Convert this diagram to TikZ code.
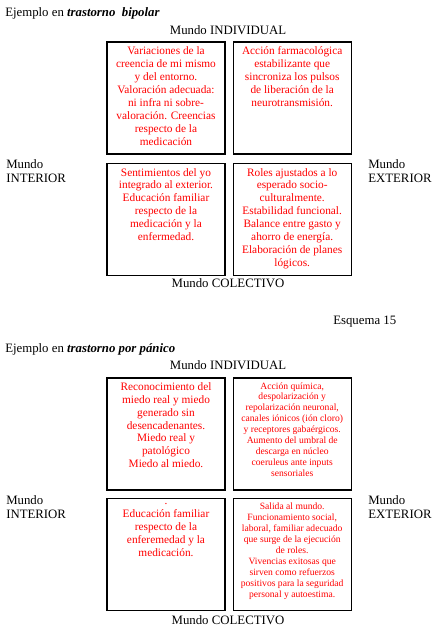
\documentclass[tikz,border=0pt]{standalone}
\usepackage{fontspec}
\setmainfont{Liberation Serif}
\usetikzlibrary{positioning}

\begin{document}
\begin{tikzpicture}[x=0.75pt, y=-0.75pt,
        cuadro/.style={rectangle, draw=black, line width=0.9pt, minimum width=88.5pt, minimum height=84pt, inner sep=0pt},
        texto/.style={text=red, align=center, anchor=north, inner sep=0pt, font=\fontsize{8.5}{9.7}\selectfont},
        textochico/.style={texto, font=\fontsize{7.2}{8.2}\selectfont},
        mundo/.style={font=\fontsize{9.6}{11}\selectfont, inner sep=0pt, align=left},
        titulo/.style={anchor=west, font=\fontsize{9.6}{11}\selectfont, inner sep=0pt}
    ]
        \useasboundingbox (0,0) rectangle (444,627);

        % Esquema trastorno bipolar
        \node[titulo] (tit1) at (5,13) {Ejemplo en \textbf{\textit{trastorno\ \ bipolar}}};
        \node[mundo] (ind1) at (228,30) {Mundo INDIVIDUAL};
        \node[mundo, anchor=west] (int1) at (6,171) {Mundo\\INTERIOR};
        \node[mundo, anchor=west] (ext1) at (368,171) {Mundo\\EXTERIOR};
        \node[mundo] (col1) at (228,283) {Mundo COLECTIVO};

        \node[cuadro] (c1a) at (166,98) {};
        \node[cuadro, right=5.25pt of c1a] (c1b) {};
        \node[cuadro, below=6pt of c1a] (c1c) {};
        \node[cuadro, below=6pt of c1b] (c1d) {};

        \node[texto] (t1a) at ([yshift=-4pt]c1a.north) {Variaciones de la\\creencia de mi mismo\\y del entorno.\\Valoración adecuada:\\ni infra ni sobre-\\valoración. Creencias\\respecto de la\\medicación};
        \node[texto] (t1b) at ([yshift=-4pt]c1b.north) {Acción farmacológica\\estabilizante que\\sincroniza los pulsos\\de liberación de la\\neurotransmisión.};
        \node[texto] (t1c) at ([yshift=-4pt]c1c.north) {Sentimientos del yo\\integrado al exterior.\\Educación familiar\\respecto de la\\medicación y la\\enfermedad.};
        \node[texto] (t1d) at ([yshift=-4pt]c1d.north) {Roles ajustados a lo\\esperado socio-\\culturalmente.\\Estabilidad funcional.\\Balance entre gasto y\\ahorro de energía.\\Elaboración de planes\\lógicos.};

        \node[titulo] (esq) at (333,322) {Esquema 15};

        % Esquema trastorno por panico
        \node[titulo] (tit2) at (5,349) {Ejemplo en \textbf{\textit{trastorno por pánico}}};
        \node[mundo] (ind2) at (228,365) {Mundo INDIVIDUAL};
        \node[mundo, anchor=west] (int2) at (6,507) {Mundo\\INTERIOR};
        \node[mundo, anchor=west] (ext2) at (368,507) {Mundo\\EXTERIOR};
        \node[mundo] (col2) at (228,620) {Mundo COLECTIVO};

        \node[cuadro] (c2a) at (166,434) {};
        \node[cuadro, right=5.25pt of c2a] (c2b) {};
        \node[cuadro, below=5.25pt of c2a] (c2c) {};
        \node[cuadro, below=5.25pt of c2b] (c2d) {};

        \node[texto] (t2a) at ([yshift=-3.5pt]c2a.north) {Reconocimiento del\\miedo real y miedo\\generado sin\\desencadenantes.\\Miedo real y\\patológico\\Miedo al miedo.};
        \node[textochico] (t2b) at ([yshift=-3.5pt]c2b.north) {Acción química,\\despolarización y\\repolarización neuronal,\\canales iónicos (ión cloro)\\y receptores gabaérgicos.\\Aumento del umbral de\\descarga en núcleo\\coeruleus ante inputs\\sensoriales};
        \node[texto] (t2c) at ([yshift=-4pt]c2c.north) {.\\Educación familiar\\respecto de la\\enferemedad y la\\medicación.};
        \node[textochico] (t2d) at ([yshift=-4pt]c2d.north) {Salida al mundo.\\Funcionamiento social,\\laboral, familiar adecuado\\que surge de la ejecución\\de roles.\\Vivencias exitosas que\\sirven como refuerzos\\positivos para la seguridad\\personal y autoestima.};
    \end{tikzpicture}
\end{document}
